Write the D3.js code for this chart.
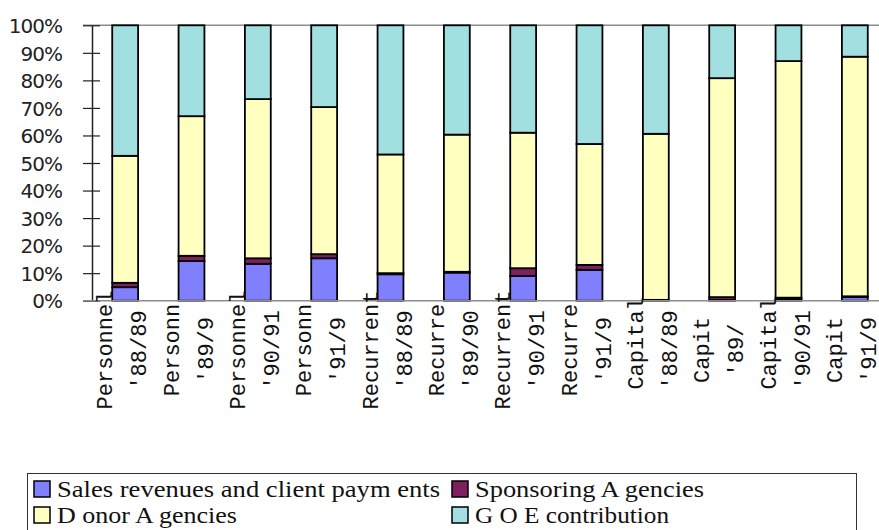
<!DOCTYPE html>
<html><head><meta charset="utf-8">
<script src="https://cdn.jsdelivr.net/npm/d3@7"></script>
<style>
html,body{margin:0;padding:0;background:#fff;}
svg{display:block;}
.cat{white-space:pre;}
</style></head>
<body>
<svg id="chart" width="879" height="530"></svg>
<script>
const catLine1 = ["Personnel","Personn","Personnel","Personn","Recurrent","Recurre","Recurrent","Recurre"," Capital","Capit"," Capital","Capit"];
const catLine2 = ["'88/89","'89/9","'90/91","'91/9","'88/89","'89/90","'90/91","'91/9","'88/89","'89/","'90/91","'91/9"];
const sales   = [4.9,14.4,13.4,15.4,9.6,10.2,9.0,11.2,0.0,0.3,0.5,1.3];
const sponsor = [1.6,1.9,2.0,1.5,0.4,0.3,2.8,1.8,0.3,1.0,0.6,0.3];
const donor   = [46.1,50.7,57.8,53.4,43.1,49.8,49.2,43.9,60.3,79.5,85.9,87.0];
const goe     = [47.4,33.0,26.8,29.7,46.9,39.7,39.0,43.1,39.4,19.2,13.0,11.4];
const seriesNames = ["Sales revenues and client paym ents","Sponsoring A gencies","D onor A gencies","G O E contribution"];
const seriesKeys = ["sales","sponsor","donor","goe"];
const seriesColors = ["#8080ff","#801f60","#ffffc0","#a2dfe0"];
const yTicks = [0,10,20,30,40,50,60,70,80,90,100];

const svg = d3.select("#chart");
const rows = catLine1.map((c,i)=>({i, sales:sales[i], sponsor:sponsor[i], donor:donor[i], goe:goe[i]}));
const total = rows.map(r=>r.sales+r.sponsor+r.donor+r.goe);
const normRows = rows.map((r,i)=>{const o={i:r.i}; seriesKeys.forEach(k=>o[k]=r[k]/total[i]*100); return o;});

const x = d3.scaleBand().domain(d3.range(catLine1.length)).range([92, 888]).paddingInner(0.61).paddingOuter(0.305);
const y = d3.scaleLinear().domain([0,100]).range([300.7, 25.3]);

svg.append("line").attr("x1",83).attr("x2",879).attr("y1",y(100)).attr("y2",y(100)).attr("stroke","#8c8c8c").attr("stroke-width",1.5);

const yAxis = d3.axisLeft(y).tickValues(yTicks).tickFormat(d=>d+"%").tickSizeInner(9).tickSizeOuter(0);
const gy = svg.append("g").attr("transform","translate(92,0)").call(yAxis);
gy.select(".domain").attr("stroke","#222").attr("stroke-width",1.5);
gy.selectAll(".tick line").attr("stroke","#222").attr("stroke-width",1.2).attr("x2",8).attr("x1",-9);
gy.selectAll(".tick text").attr("x",-30).attr("font-family","DejaVu Sans").attr("font-size",20).attr("letter-spacing","-1").attr("fill","#222").attr("dy","0.36em");

const stack = d3.stack().keys(seriesKeys);
const stacked = stack(normRows);
svg.append("g").selectAll("g").data(stacked).join("g")
  .attr("fill",(d,i)=>seriesColors[i])
  .selectAll("rect").data(d=>d).join("rect")
  .attr("x",d=>x(d.data.i))
  .attr("width",x.bandwidth())
  .attr("y",d=>y(d[1]))
  .attr("height",d=>Math.max(0,y(d[0])-y(d[1])))
  .attr("stroke","#000").attr("stroke-width",1.8);

svg.append("line").attr("x1",83).attr("x2",879).attr("y1",y(0)).attr("y2",y(0)).attr("stroke","#8c8c8c").attr("stroke-width",1.5);

const lab = svg.append("g").selectAll("g").data(catLine1).join("g")
  .attr("transform",(d,i)=>`translate(${x(i)+x.bandwidth()/2},350) rotate(-90)`);
lab.append("text").attr("class","cat").attr("y",-13).attr("text-anchor","middle")
  .attr("font-family","Liberation Mono").attr("font-size",22).attr("fill","#111").text(d=>d);
lab.append("text").attr("class","cat").attr("y",21).attr("text-anchor","middle")
  .attr("font-family","Liberation Mono").attr("font-size",22).attr("fill","#111").text((d,i)=>catLine2[i]);

const leg = svg.append("g");
leg.append("rect").attr("x",27.5).attr("y",473.5).attr("width",829).attr("height",70).attr("fill","#fff").attr("stroke","#333").attr("stroke-width",1);
const legPos = [[34,481],[452,481],[34,507],[452,507]];
const legWidths = [383,229,180,194];
seriesNames.forEach((n,i)=>{
  const [lx,ly]=legPos[i];
  leg.append("rect").attr("x",lx).attr("y",ly).attr("width",16).attr("height",16).attr("fill",seriesColors[i]).attr("stroke","#000").attr("stroke-width",1.5);
  leg.append("text").attr("class","cat").attr("x",lx+23).attr("y",ly+16).attr("font-family","Liberation Serif").attr("font-size",24)
    .attr("textLength",legWidths[i]).attr("lengthAdjust","spacingAndGlyphs").attr("fill","#111").text(n);
});
</script>
</body></html>
